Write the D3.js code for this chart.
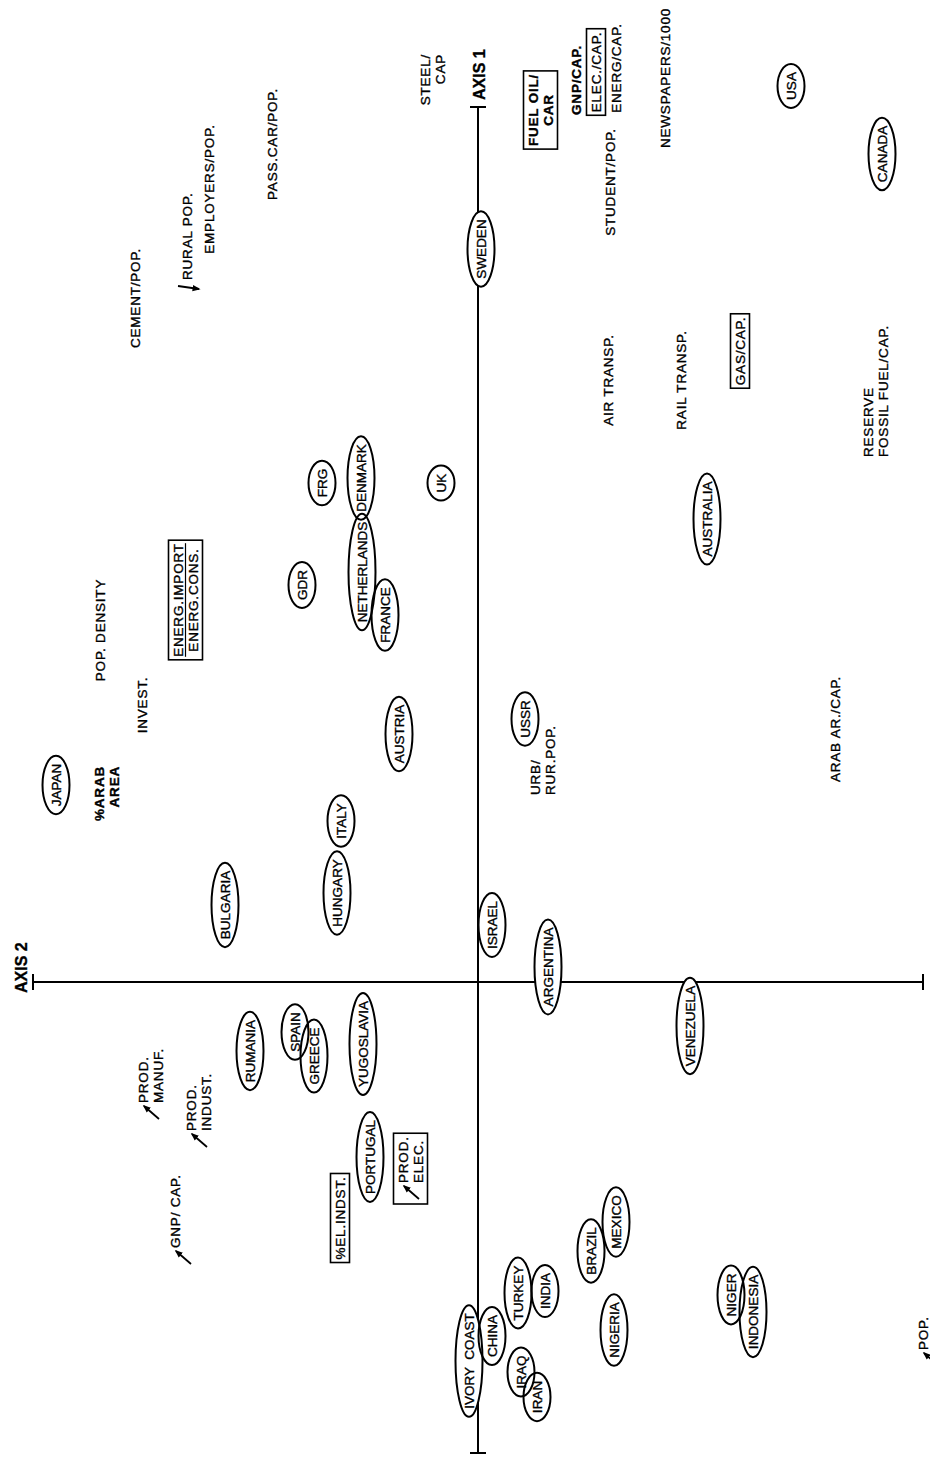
<!DOCTYPE html>
<html>
<head>
<meta charset="utf-8">
<script src="https://cdn.jsdelivr.net/npm/d3@7"></script>
<style>
  body { margin: 0; background: #fff; }
  svg { display: block; }
  text { font-family: "Liberation Sans", Arial, sans-serif; fill: #000; stroke: #000; stroke-width: 0.35; }
</style>
</head>
<body>
<div id="chart"></div>
<script>
// scores on the two axes (axis 1 runs up the page, axis 2 runs to the left)
const axis1Range = [-4.71, 8.75];
const axis2Range = [-4.45, 4.45];

const countries = ["SWEDEN", "USA", "CANADA", "FRG", "DENMARK", "NETHERLANDS", "GDR", "FRANCE", "UK",
  "AUSTRALIA", "AUSTRIA", "JAPAN", "ITALY", "HUNGARY", "BULGARIA", "USSR", "ISRAEL", "ARGENTINA",
  "VENEZUELA", "RUMANIA", "SPAIN", "GREECE", "YUGOSLAVIA", "PORTUGAL", "IVORY  COAST", "CHINA",
  "TURKEY", "INDIA", "IRAQ", "IRAN", "BRAZIL", "MEXICO", "NIGERIA", "NIGER", "INDONESIA"];
const countryAxis1 = [7.33, 8.96, 8.28, 4.99, 5.04, 4.10, 3.97, 3.67, 4.99,
  4.63, 2.48, 1.97, 1.61, 0.89, 0.77, 2.63, 0.57, 0.15,
  -0.44, -0.69, -0.50, -0.74, -0.62, -1.75, -3.79, -3.54,
  -3.11, -3.09, -3.90, -4.15, -2.69, -2.40, -3.48, -3.13, -3.30];
const countryAxis2 = [-0.03, -3.13, -4.04, 1.56, 1.17, 1.16, 1.76, 0.93, 0.37,
  -2.29, 0.79, 4.22, 1.37, 1.41, 2.53, -0.47, -0.14, -0.70,
  -2.12, 2.28, 1.83, 1.64, 1.15, 1.08, 0.09, -0.14,
  -0.40, -0.67, -0.43, -0.59, -1.13, -1.38, -1.36, -2.53, -2.75];

// "|" separates the lines of a label
const variables = ["STEEL/|CAP", "GNP/CAP.", "ELEC./CAP.", "ENERG/CAP.", "FUEL OIL/|CAR", "STUDENT/POP.",
  "NEWSPAPERS/1000", "CEMENT/POP.", "RURAL POP.", "EMPLOYERS/POP.", "PASS.CAR/POP.", "AIR TRANSP.",
  "RAIL TRANSP.", "GAS/CAP.", "RESERVE|FOSSIL FUEL/CAP.", "ENERG.IMPORT|ENERG.CONS.", "POP. DENSITY",
  "INVEST.", "%ARAB|AREA", "URB/|RUR.POP.", "ARAB AR./CAP.", "PROD.|MANUF.", "PROD.|INDUST.",
  "GNP/ CAP.", "PROD.|ELEC.", "%EL.INDST.", "POP."];
const variableAxis1 = [9.28, 9.02, 9.10, 9.14, 8.72, 8.00,
  9.04, 6.84, 7.02, 7.93, 8.38, 6.02,
  6.02, 6.31, 5.25, 3.82, 3.52,
  2.77, 2.16, 1.87, 2.53, -1.21, -1.49,
  -2.66, -2.01, -2.36, -3.68];
const variableAxis2 = [0.53, -0.98, -1.18, -1.38, -0.55, -1.32,
  -1.87, 3.43, 2.91, 2.69, 2.06, -1.30,
  -2.03, -2.62, -3.90, 3.00, 3.78,
  3.36, 3.79, -0.57, -3.57, 3.35, 2.87,
  3.03, 0.75, 1.38, -4.45];

const framedVariables = ["ELEC./CAP.", "FUEL OIL/|CAR", "GAS/CAP.", "ENERG.IMPORT|ENERG.CONS.", "PROD.|ELEC.", "%EL.INDST."];
const boldVariables = ["FUEL OIL/|CAR", "%ARAB|AREA", "GNP/CAP."];
const fractionVariables = ["ENERG.IMPORT|ENERG.CONS."];
const startAligned = ["RURAL POP.", "RESERVE|FOSSIL FUEL/CAP.", "URB/|RUR.POP.", "PROD.|MANUF.",
  "PROD.|INDUST.", "GNP/ CAP.", "PROD.|ELEC.", "POP."];
const endAligned = ["STEEL/|CAP", "%ARAB|AREA"];
const risingArrows = ["PROD.|MANUF.", "PROD.|INDUST.", "GNP/ CAP.", "PROD.|ELEC.", "POP."];
const fallingArrows = ["RURAL POP."];

const width = 930, height = 1459;
const x = d3.scaleLinear(axis2Range, [923, 33]);
const y = d3.scaleLinear(axis1Range, [1453, 107]);

const svg = d3.select("#chart").append("svg")
  .attr("width", width).attr("height", height)
  .attr("viewBox", [0, 0, width, height]);
svg.append("rect").attr("width", width).attr("height", height).attr("fill", "#fff");

svg.append("defs").append("marker")
  .attr("id", "head")
  .attr("viewBox", "0 0 10 10")
  .attr("refX", 8).attr("refY", 5)
  .attr("markerWidth", 8).attr("markerHeight", 8)
  .attr("markerUnits", "userSpaceOnUse")
  .attr("orient", "auto")
  .append("path").attr("d", "M0,1L10,5L0,9Z").attr("fill", "#000");

// axes
const axes = svg.append("g").attr("stroke", "#000").attr("stroke-width", 2);
axes.append("line")
  .attr("x1", x(0)).attr("x2", x(0))
  .attr("y1", y(axis1Range[1])).attr("y2", y(axis1Range[0]));
axes.append("line")
  .attr("x1", x(axis2Range[1])).attr("x2", x(axis2Range[0]))
  .attr("y1", y(0)).attr("y2", y(0));
axes.selectAll(".t1").data(axis1Range).join("line")
  .attr("x1", x(0) - 8).attr("x2", x(0) + 8)
  .attr("y1", d => y(d)).attr("y2", d => y(d));
axes.selectAll(".t2").data(axis2Range).join("line")
  .attr("y1", y(0) - 8).attr("y2", y(0) + 8)
  .attr("x1", d => x(d)).attr("x2", d => x(d));

svg.append("text")
  .attr("transform", `translate(${x(0) + 1},${y(axis1Range[1]) - 7}) rotate(-90)`)
  .attr("dominant-baseline", "central")
  .attr("font-size", 16).attr("font-weight", "bold")
  .text("AXIS 1");
svg.append("text")
  .attr("transform", `translate(${x(axis2Range[1]) - 12},${y(0) + 11}) rotate(-90)`)
  .attr("dominant-baseline", "central")
  .attr("font-size", 16).attr("font-weight", "bold")
  .text("AXIS 2");

// countries: ellipses with white fill, then outlines, then names
const fills = svg.append("g");
const outlines = svg.append("g");
const names = svg.append("g");

const countryData = countries.map((name, i) => ({name, a1: countryAxis1[i], a2: countryAxis2[i]}));

names.selectAll("text").data(countryData).join("text")
  .attr("transform", d => `translate(${x(d.a2)},${y(d.a1)}) rotate(-90)`)
  .attr("text-anchor", "middle")
  .attr("dominant-baseline", "central")
  .attr("font-size", 13.5)
  .style("white-space", "pre")
  .text(d => d.name)
  .each(function(d) { d.len = this.getComputedTextLength(); });

fills.selectAll("ellipse").data(countryData).join("ellipse")
  .attr("cx", d => x(d.a2)).attr("cy", d => y(d.a1))
  .attr("rx", 13.5).attr("ry", d => d.len / 2 + 8)
  .attr("fill", "#fff");
outlines.selectAll("ellipse").data(countryData).join("ellipse")
  .attr("cx", d => x(d.a2)).attr("cy", d => y(d.a1))
  .attr("rx", 13.5).attr("ry", d => d.len / 2 + 8)
  .attr("fill", "none").attr("stroke", "#000").attr("stroke-width", 2);

// variables
const lineStep = 15;
const varData = variables.map((name, i) => ({name, lines: name.split("|"), a1: variableAxis1[i], a2: variableAxis2[i]}));

const vars = svg.append("g").selectAll("g").data(varData).join("g")
  .attr("transform", d => `translate(${x(d.a2)},${y(d.a1)}) rotate(-90)`);

vars.each(function(d) {
  const g = d3.select(this);
  const anchor = startAligned.includes(d.name) ? "start" : endAligned.includes(d.name) ? "end" : "middle";
  const t = g.append("text")
    .attr("text-anchor", anchor)
    .attr("dominant-baseline", "central")
    .attr("font-size", 13.5)
    .attr("letter-spacing", 0.8)
    .attr("font-weight", boldVariables.includes(d.name) ? "bold" : null);
  d.lines.forEach((line, j) => {
    t.append("tspan").attr("x", 0).attr("y", j * lineStep).text(line);
  });
  const b = t.node().getBBox();
  if (fractionVariables.includes(d.name)) {
    g.append("line")
      .attr("x1", b.x).attr("x2", b.x + b.width)
      .attr("y1", lineStep / 2).attr("y2", lineStep / 2)
      .attr("stroke", "#000").attr("stroke-width", 1.2);
  }
  if (framedVariables.includes(d.name)) {
    let bx = b.x - 3, bw = b.width + 6;
    if (risingArrows.includes(d.name)) { bx -= 18; bw += 18; }
    g.append("rect")
      .attr("x", bx).attr("y", b.y - 2)
      .attr("width", bw).attr("height", b.height + 4)
      .attr("fill", "none").attr("stroke", "#000").attr("stroke-width", 1.6);
  }
  if (risingArrows.includes(d.name)) {
    g.append("line")
      .attr("x1", -16).attr("y1", 16).attr("x2", -3).attr("y2", 1)
      .attr("stroke", "#000").attr("stroke-width", 1.8)
      .attr("marker-end", "url(#head)");
  }
  if (fallingArrows.includes(d.name)) {
    g.append("line")
      .attr("x1", -6).attr("y1", -9).attr("x2", -9).attr("y2", 12)
      .attr("stroke", "#000").attr("stroke-width", 1.8)
      .attr("marker-end", "url(#head)");
  }
});
</script>
</body>
</html>
